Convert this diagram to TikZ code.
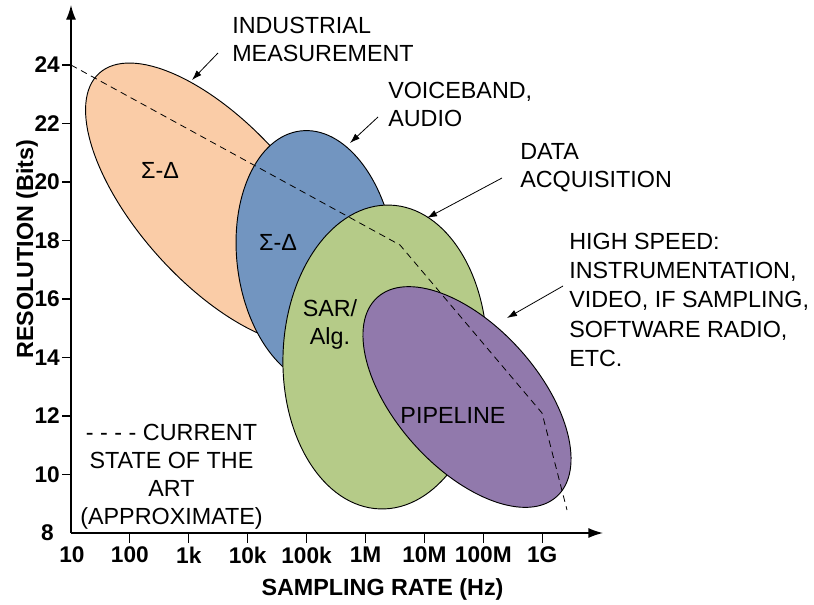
\documentclass[tikz,border=0pt]{standalone}
\usepackage{fontspec}
\setmainfont{Liberation Sans}
\usetikzlibrary{arrows.meta}
\definecolor{peach}{RGB}{250,204,167}
\definecolor{steel}{RGB}{114,149,192}
\definecolor{olive}{RGB}{181,203,136}
\definecolor{lilac}{RGB}{145,121,172}
\begin{document}
\begin{tikzpicture}[x=0.75pt,y=-0.75pt,
  region/.style={draw=black, line width=0.7pt},
  lbl/.style={font=\fontsize{17.5}{21}\selectfont, align=left, inner sep=0pt},
  inlbl/.style={font=\fontsize{17.5}{21}\selectfont, align=center, inner sep=0pt},
  ticklbl/.style={font=\bfseries\fontsize{17}{20}\selectfont, inner sep=0pt},
  axlbl/.style={font=\bfseries\fontsize{17.5}{21}\selectfont, inner sep=0pt},
  callout/.style={-{Latex[length=7.5pt,width=5pt]}, line width=0.6pt},
  axisline/.style={line width=1pt, -{Latex[length=11pt,width=7.5pt]}},
  trend/.style={line width=0.6pt, dash pattern=on 5pt off 3.5pt}
]
\useasboundingbox (0,0) rectangle (814,604);

% converter regions
\filldraw[region, fill=peach, rotate around={-48:(217,204)}] (217,204) ellipse [x radius=176, y radius=78.5];
\filldraw[region, fill=steel, rotate around={-83:(316,258)}] (316,258) ellipse [x radius=128, y radius=79];
\filldraw[region, fill=olive, rotate around={-92:(385,357)}] (385,357) ellipse [x radius=152, y radius=102];
\filldraw[region, fill=lilac, rotate around={-48:(467,397)}] (467,397) ellipse [x radius=134, y radius=71];

% region labels
\node[inlbl] (sd1) at (160,170) {Σ-Δ};
\node[inlbl] (sd2) at (278,242) {Σ-Δ};
\node[inlbl, anchor=north] (sar) at (330,299) {SAR/\\Alg.};
\node[inlbl] (pipe) at (453,415) {PIPELINE};

% state of the art
\coordinate (s0) at (71,65);
\coordinate (s1) at (400,245);
\coordinate (s2) at (542,413);
\coordinate (s3) at (567,510);
\draw[trend] (s0) -- (s1) -- (s2) -- (s3);

% axes
\coordinate (O) at (71,533);
\coordinate (ytop) at (71,5);
\coordinate (xend) at (603,533);
\draw[axisline] (O) -- (ytop);
\draw[axisline] (O) -- (xend);

\foreach \b in {10,12,...,24}{
  \pgfmathsetmacro{\yy}{533-(\b-8)*29.25}
  \draw[line width=0.8pt] (62,\yy) -- (71,\yy);
  \node[ticklbl, anchor=east] at (60,\yy) {\b};
}
\node[ticklbl, anchor=east] (y8) at (54,533) {8};

\foreach \f [count=\i] in {100,1k,10k,100k,1M,10M,100M,1G}{
  \pgfmathsetmacro{\xx}{71+\i*58.9}
  \draw[line width=0.8pt] (\xx,533) -- (\xx,543);
  \node[ticklbl] at (\xx,555) {\f};
}
\node[ticklbl] (x10) at (72,555) {10};

\node[axlbl, anchor=base] (xlab) at (382.5,595) {SAMPLING RATE (Hz)};
\node[axlbl, anchor=base, rotate=90] (ylab) at (33,249) {RESOLUTION (Bits)};

% application callouts
\node[lbl, anchor=north west] (ind) at (232,17) {INDUSTRIAL\\MEASUREMENT};
\node[lbl, anchor=north west] (voice) at (388,82) {VOICEBAND,\\AUDIO};
\node[lbl, anchor=north west] (daq) at (520,143) {DATA\\ACQUISITION};
\node[lbl, anchor=north west, font=\fontsize{17.5}{21.9}\selectfont] (hs) at (569,233)
  {HIGH SPEED:\\INSTRUMENTATION,\\VIDEO, IF SAMPLING,\\SOFTWARE RADIO,\\ETC.};

\coordinate (a1) at (218,53);  \coordinate (t1) at (192,80);
\coordinate (a2) at (378,117); \coordinate (t2) at (350,143);
\coordinate (a3) at (502,178); \coordinate (t3) at (427,218);
\coordinate (a4) at (563,286); \coordinate (t4) at (507,318);
\draw[callout] (a1) -- (t1);
\draw[callout] (a2) -- (t2);
\draw[callout] (a3) -- (t3);
\draw[callout] (a4) -- (t4);

% legend
\node[inlbl, anchor=north] (legend) at (171.5,424)
  {- - - - CURRENT\\STATE OF THE\\ART\\(APPROXIMATE)};
\end{tikzpicture}
\end{document}
